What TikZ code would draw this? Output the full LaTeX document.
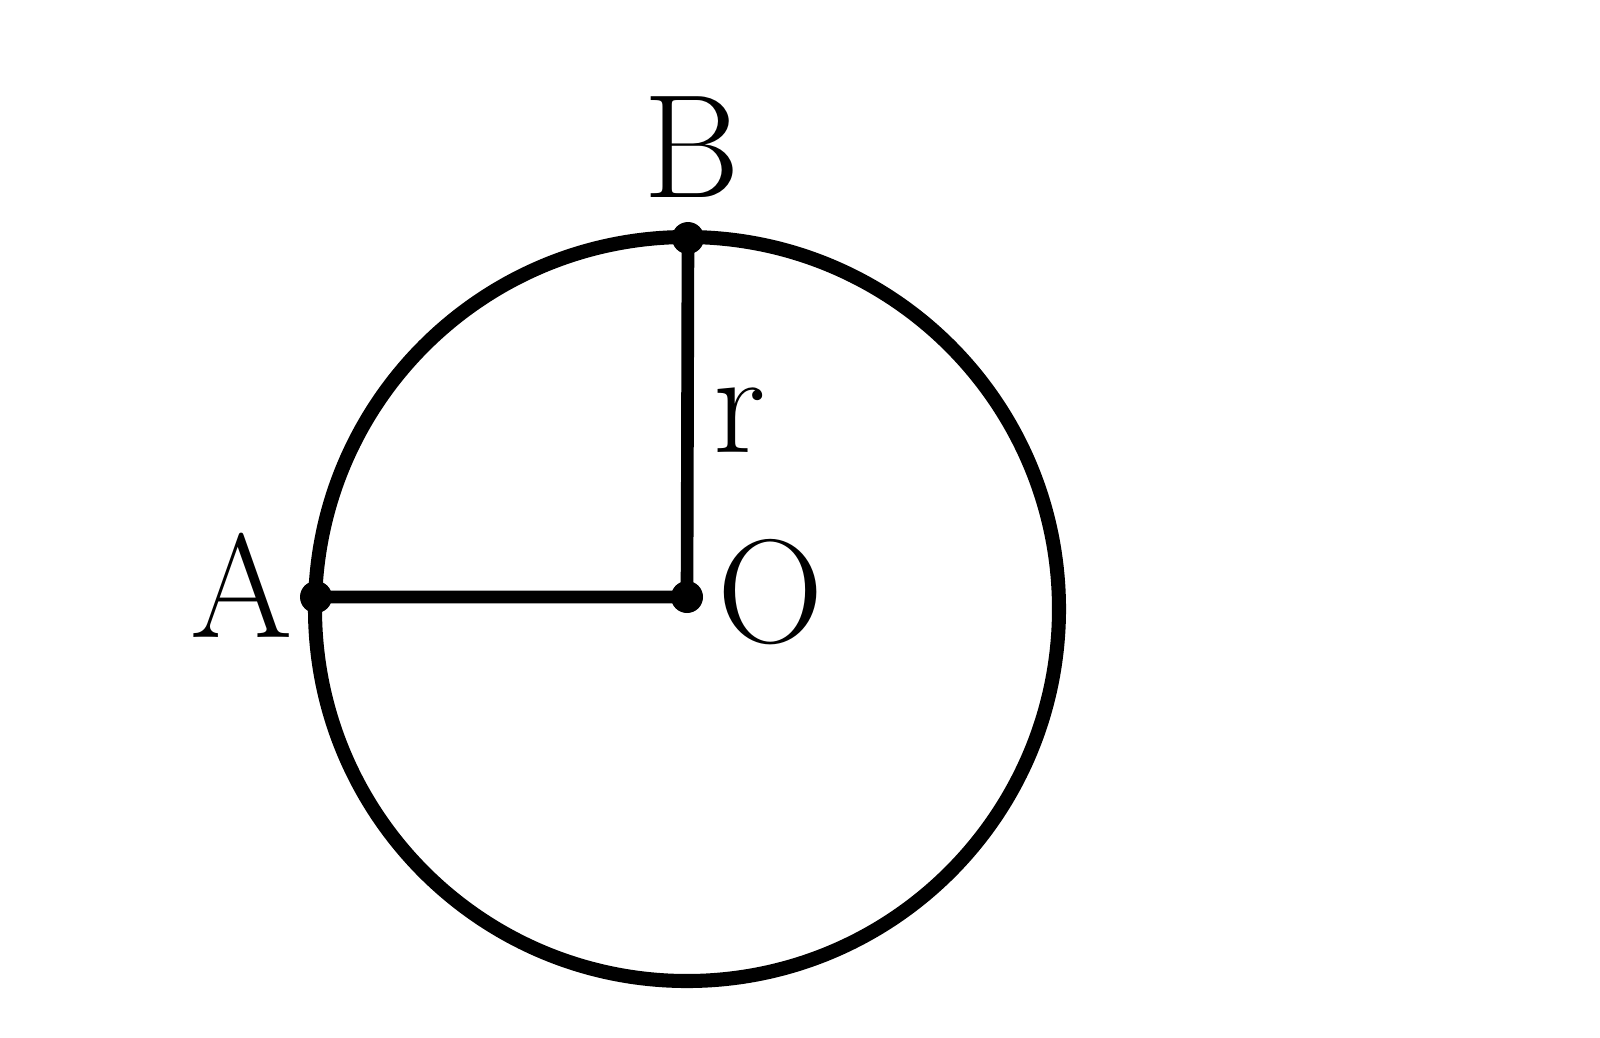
\documentclass[tikz,border=0pt]{standalone}
\begin{document}
\begin{tikzpicture}[x=0.1mm,y=-0.1mm,
  lbl/.style={inner sep=0pt,font=\fontsize{42}{50}\selectfont},
  rad/.style={line width=3.6pt},
  rim/.style={line width=4pt}]
\useasboundingbox (0,0) rectangle (1600,1037);
\coordinate (C) at (687,609);
\draw[rim] (C) circle[radius=372];
\fill (687,597) circle[radius=16] coordinate (O);
\fill (316,597) circle[radius=16] coordinate (A);
\fill (688,238) circle[radius=16] coordinate (B);
\draw[rad] (A) -- (O) -- (B);
\node[lbl] (lA) at (242,585) {A};
\node[lbl] (lB) at (692,147) {B};
\node[lbl] (lO) at (771,592) {O};
\node[lbl,anchor=base] (lr) at (740,452) {r};
\end{tikzpicture}
\end{document}
